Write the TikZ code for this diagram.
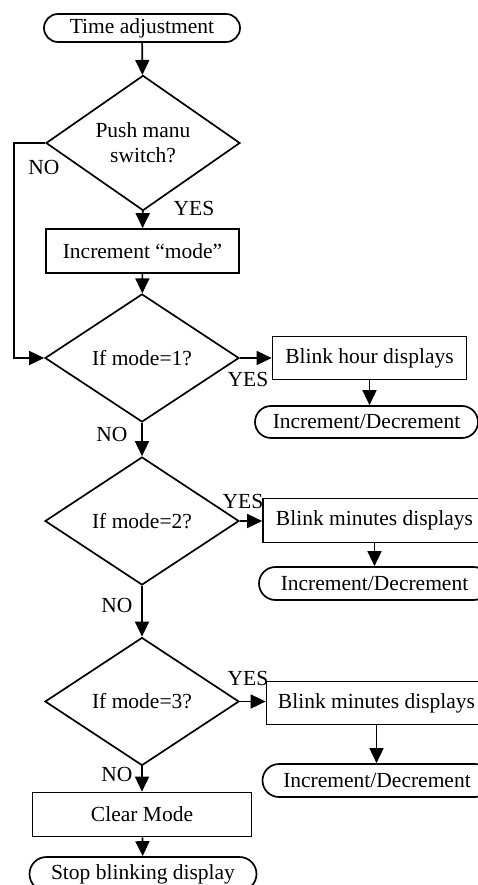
\documentclass[tikz,border=0pt]{standalone}
\usepackage{fontspec}
\setmainfont{Liberation Serif}
\usepackage{tikz}
\usetikzlibrary{arrows.meta,shapes.geometric,shapes.misc}

\tikzset{
  term/.style={draw,line width=1.7pt,rounded rectangle,inner sep=0pt,minimum height=32pt},
  proc/.style={draw,line width=1.7pt,rectangle,inner sep=0pt,minimum height=44pt},
  decide/.style={draw,line width=1.7pt,diamond,inner sep=0pt,align=center,minimum width=194pt,minimum height=128pt},
  lbl/.style={inner sep=0pt}
}

\begin{document}
\begin{tikzpicture}[line cap=butt,line join=miter,line width=1.7pt,>={Triangle[length=15pt,width=14pt]},x=1pt,y=-1pt,font=\fontsize{21.5}{25}\selectfont]
      \useasboundingbox (0,0) rectangle (478,885);
      \clip (0,0) rectangle (478,885);
      % main column
      \node[term,minimum width=196pt,minimum height=28pt] (start) at (142,28) {Time adjustment};
      \node[decide] (d1) at (143,143) {Push manu\\switch?};
      \node[proc,minimum width=193pt] (inc) at (142.5,251) {Increment “mode”};
      \node[decide] (d2) at (142,358) {If mode=1?};
      \node[decide] (d3) at (142,521) {If mode=2?};
      \node[decide] (d4) at (142,701.5) {If mode=3?};
      \node[proc,minimum width=219pt] (clear) at (142,814.5) {Clear Mode};
      \node[term,minimum width=227pt,minimum height=34pt] (stop) at (143,874) {Stop blinking display};
      % right column
      \node[proc,minimum width=194pt,minimum height=43pt] (blink1) at (369.5,358) {Blink hour displays};
      \node[term,minimum width=223pt] (id1) at (366.5,422) {Increment/Decrement};
      \node[proc,minimum width=223pt] (blink2) at (374.5,520.5) {Blink minutes displays};
      \node[term,minimum width=231pt,minimum height=33pt] (id2) at (374.5,583.5) {Increment/Decrement};
      \node[proc,minimum width=220pt,minimum height=43pt] (blink3) at (376.5,703) {Blink minutes displays};
      \node[term,minimum width=229pt,minimum height=33pt] (id3) at (377,780.5) {Increment/Decrement};
      % branch labels
      \node[lbl] (no1) at (44,167) {NO};
      \node[lbl] (yes1) at (194,208) {YES};
      \node[lbl] (yes2) at (248,379) {YES};
      \node[lbl] (no2) at (112,434) {NO};
      \node[lbl] (yes3) at (243,501) {YES};
      \node[lbl] (no3) at (117,605) {NO};
      \node[lbl] (yes4) at (248,678) {YES};
      \node[lbl] (no4) at (117,774) {NO};
      % connectors
      \coordinate (loop) at (14,143);
      \draw[->] (start) -- (d1);
      \draw[->] (d1) -- (inc);
      \draw[->] (inc) -- (d2);
      \draw[->] (d1.west) -- (loop) |- (d2.west);
      \draw[->] (d2) -- (d3);
      \draw[->] (d3) -- (d4);
      \draw[->] (d4) -- (clear);
      \draw[->] (clear) -- (stop);
      \draw[->] (d2.east) -- (d2.east -| blink1.west);
      \draw[->] (d3.east) -- (d3.east -| blink2.west);
      \draw[->] (d4.east) -- (d4.east -| blink3.west);
      \draw[->] (blink1.south) -- (blink1.south |- id1.north);
      \draw[->] (blink2.south) -- (blink2.south |- id2.north);
      \draw[->] (blink3.south) -- (blink3.south |- id3.north);
\end{tikzpicture}
\end{document}
